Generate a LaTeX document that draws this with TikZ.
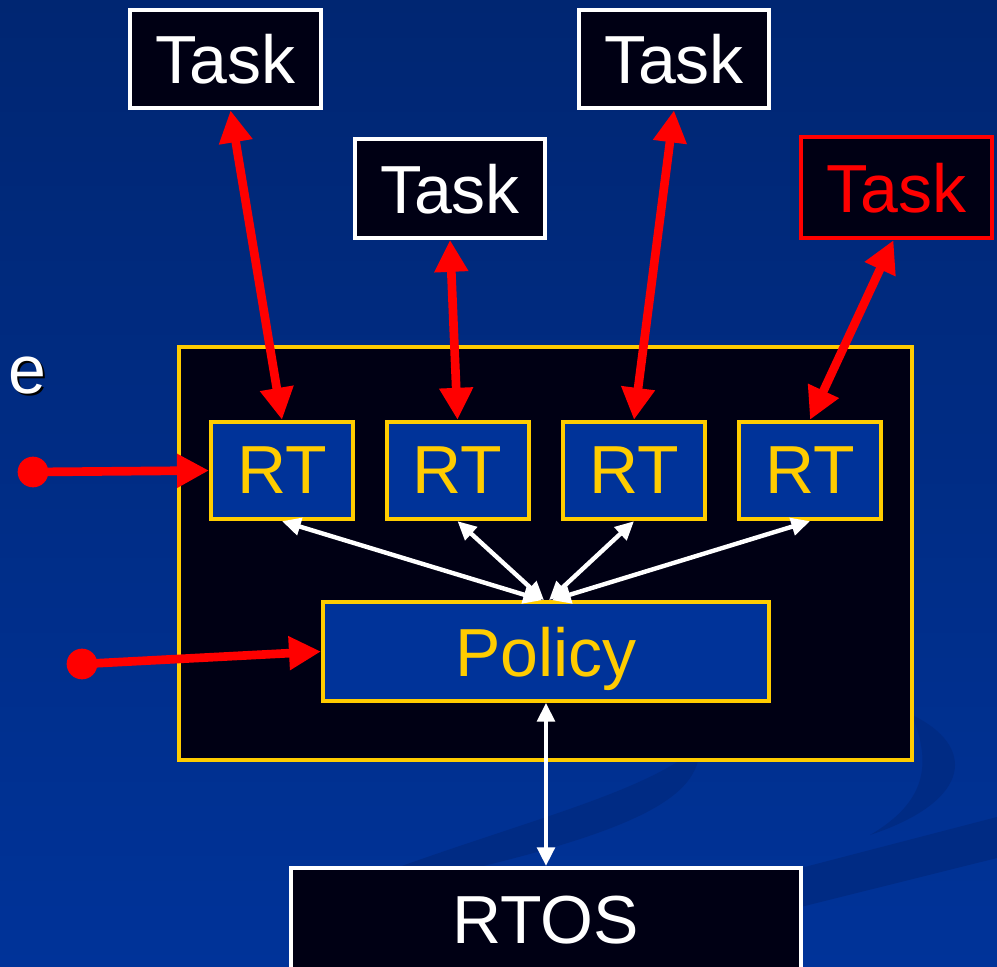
\documentclass[tikz,border=0pt]{standalone}
\usepackage{fontspec}
\setmainfont{Liberation Sans}
\usetikzlibrary{arrows.meta,calc}
\definecolor{slide}{RGB}{0,51,153}
\definecolor{slidetop}{RGB}{0,38,114}
\definecolor{swoosh}{RGB}{0,43,132}
\definecolor{boxfill}{RGB}{0,0,20}
\definecolor{gold}{RGB}{255,204,0}

\begin{document}
\begin{tikzpicture}[x=0.75pt,y=-0.75pt,
    box/.style={draw=white,line width=3pt,fill=boxfill,text=white,inner sep=0pt,
      text depth=0pt,minimum width=143pt,minimum height=74pt,font=\fontsize{51}{51}\selectfont},
    rtbox/.style={box,draw=gold,fill=slide,text=gold,minimum width=106.5pt,minimum height=73pt},
    redboth/.style={red,line width=6.5pt,{Triangle[length=24pt,width=24pt]}-{Triangle[length=24pt,width=24pt]}},
    redone/.style={red,line width=6.5pt,-{Triangle[length=24pt,width=24pt]}},
    whiteboth/.style={white,line width=3.3pt,{Triangle[length=14pt,width=13pt]}-{Triangle[length=14pt,width=13pt]}}]
    \useasboundingbox (0,0) rectangle (997,967);
    % slide background
    \fill[top color=slidetop,bottom color=slide] (0,0) rectangle (997,967);
    \fill[swoosh] (300,905) .. controls (480,830) and (640,800) .. (700,745)
        .. controls (700,800) and (640,840) .. (300,905);
    \fill[swoosh] (912,715) .. controls (975,745) and (975,800) .. (870,835)
        .. controls (930,800) and (930,760) .. (912,715);
    \fill[swoosh] (997,817) -- (997,858) -- (560,967) -- (420,967) -- cycle;
    % tasks
    \node[box] (t1) at (225.5,59) {Task};
    \node[box] (t2) at (450,188.5) {Task};
    \node[box] (t3) at (674,59) {Task};
    \node[box,draw=red,text=red,minimum height=76pt] (t4) at (896.5,187.5) {Task};
    % middleware
    \node[draw=gold,line width=3pt,fill=boxfill,minimum width=550pt,minimum height=310pt] (mw) at (545.5,553.5) {};
    \node[rtbox] (rt1) at (282,470.5) {RT};
    \node[rtbox] (rt2) at (457.5,470.5) {RT};
    \node[rtbox] (rt3) at (634,470.5) {RT};
    \node[rtbox] (rt4) at (810,470.5) {RT};
    \node[rtbox,minimum width=334.5pt,minimum height=74pt] (pol) at (546,651.5) {Policy};
    \node[box,minimum width=382.5pt,minimum height=78pt] (rtos) at (546,920) {RTOS};
    % cut-off text at the left
    \node[box,draw=none,fill=none,text=black] (eshadow) at (29.5,377.5) {e};
    \node[box,draw=none,fill=none] (e) at (27,375) {e};
    % connectors
    \draw[redboth] ($(t1.south)+(5,0)$) -- (rt1.north);
    \draw[redboth] (t2.south) -- (rt2.north);
    \draw[redboth] (t3.south) -- (rt3.north);
    \draw[redboth] ($(t4.south)+(-3,0)$) -- (rt4.north);
    \coordinate (d1) at (33,472);
    \coordinate (d2) at (82,664);
    \fill[red] (d1) circle (11.5pt);
    \fill[red] (d2) circle (11.5pt);
    \draw[redone] (d1) -- (rt1.west);
    \draw[redone] (d2) -- (pol.west);
    \draw[whiteboth] (rt1.south) -- ($(pol.north)+(-4,0)$);
    \draw[whiteboth] (rt2.south) -- ($(pol.north)+(-2,0)$);
    \draw[whiteboth] (rt3.south) -- ($(pol.north)+(3,0)$);
    \draw[whiteboth] (rt4.south) -- ($(pol.north)+(6,0)$);
    \draw[whiteboth] (pol.south) -- (rtos.north);
\end{tikzpicture}
\end{document}
